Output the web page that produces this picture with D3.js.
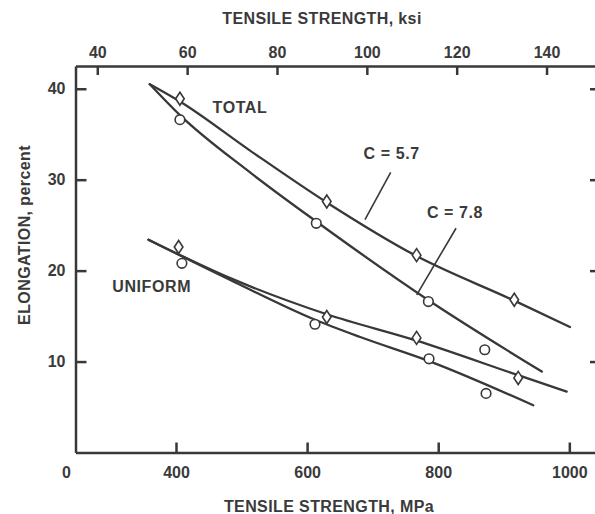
<!DOCTYPE html>
<html>
<head>
<meta charset="utf-8">
<script src="https://cdn.jsdelivr.net/npm/d3@7"></script>
<style>
  body { margin: 0; background: #fff; }
  text { font-family: "Liberation Sans", Arial, sans-serif; font-weight: bold; fill: #3a3a3a; }
</style>
</head>
<body>
<svg id="chart" width="595" height="514"></svg>
<script>
// Axis ticks
const mpaTicks = [400, 600, 800, 1000];
const ksiTicks = [40, 60, 80, 100, 120, 140];
const elongTicks = [10, 20, 30, 40];

// Measured specimens: tensile strength (MPa) and elongation (%)
const totalDiamondMPa   = [406, 630, 767, 916];
const totalDiamondElong = [38.9, 27.6, 21.7, 16.8];
const totalCircleMPa    = [406, 614, 785, 871];
const totalCircleElong  = [36.6, 25.2, 16.6, 11.3];
const uniformDiamondMPa   = [404, 630, 767, 922];
const uniformDiamondElong = [22.6, 14.9, 12.6, 8.2];
const uniformCircleMPa    = [409, 612, 786, 873];
const uniformCircleElong  = [20.8, 14.1, 10.3, 6.5];

// Fitted trend curves
const total57MPa     = [360, 406, 513, 630, 767, 916, 1001];
const total57Elong   = [40.5, 38.6, 33.2, 27.5, 21.6, 16.7, 13.8];
const total78MPa     = [360, 406, 513, 614, 784, 958];
const total78Elong   = [40.5, 37.1, 30.8, 25.4, 16.8, 8.9];
const uniform57MPa   = [358, 482, 630, 767, 922, 996];
const uniform57Elong = [23.4, 19.2, 15.2, 12.3, 8.5, 6.7];
const uniform78MPa   = [358, 482, 612, 681, 788, 945];
const uniform78Elong = [23.4, 19.0, 14.6, 12.7, 10.0, 5.2];

const svg = d3.select("#chart");
const ink = "#383838";
const fontSize = "16px";

const x = d3.scaleLinear().domain([246.7, 1046.8]).range([75.5, 600]);
const xKsi = d3.scaleLinear().domain([35.15, 151.9]).range([75.5, 600]);
const y = d3.scaleLinear().domain([0, 42.5]).range([452.5, 66]);

function styleAxis(g) {
  g.select(".domain").attr("stroke", ink).attr("stroke-width", 2.5);
  g.selectAll(".tick line").attr("stroke", ink).attr("stroke-width", 2.5);
  g.selectAll(".tick text")
    .attr("fill", ink)
    .style("font-size", fontSize)
    .style("font-family", "'Liberation Sans', Arial, sans-serif")
    .style("font-weight", "bold");
}

// Bottom axis (MPa)
svg.append("g")
  .attr("transform", `translate(0,${y(0)})`)
  .call(d3.axisBottom(x).tickValues(mpaTicks).tickFormat(d3.format("d"))
    .tickSizeInner(-10).tickSizeOuter(0).tickPadding(14))
  .call(styleAxis);

// Top axis (ksi)
svg.append("g")
  .attr("transform", `translate(0,${y.range()[1]})`)
  .call(d3.axisTop(xKsi).tickValues(ksiTicks).tickFormat(d3.format("d"))
    .tickSizeInner(-9).tickSizeOuter(0).tickPadding(8))
  .call(styleAxis);

// Left axis
svg.append("g")
  .attr("transform", `translate(${x.range()[0]},0)`)
  .call(d3.axisLeft(y).tickValues(elongTicks).tickSizeInner(-11).tickSizeOuter(0).tickPadding(10))
  .call(styleAxis);

// Right axis (only inward ticks fall inside the page)
svg.append("g")
  .attr("transform", `translate(${x.range()[1]},0)`)
  .call(d3.axisRight(y).tickValues(elongTicks).tickSizeInner(-10).tickSizeOuter(0).tickFormat(""))
  .call(styleAxis);

// Origin label
svg.append("text")
  .attr("x", 66.5).attr("y", y(0) + 20)
  .attr("text-anchor", "middle").attr("dominant-baseline", "central")
  .style("font-size", fontSize).text("0");

// Axis titles
svg.append("text")
  .attr("x", 329).attr("y", 506)
  .attr("text-anchor", "middle").attr("dominant-baseline", "central")
  .style("font-size", fontSize).style("letter-spacing", "0.4px")
  .text("TENSILE STRENGTH, MPa");

svg.append("text")
  .attr("x", 322).attr("y", 18)
  .attr("text-anchor", "middle").attr("dominant-baseline", "central")
  .style("font-size", fontSize).style("letter-spacing", "0.4px")
  .text("TENSILE STRENGTH, ksi");

svg.append("text")
  .attr("transform", "translate(24,235) rotate(-90)")
  .attr("text-anchor", "middle").attr("dominant-baseline", "central")
  .style("font-size", fontSize).style("letter-spacing", "0.4px")
  .text("ELONGATION, percent");

// Trend curves
const line = d3.line().x(d => x(d[0])).y(d => y(d[1])).curve(d3.curveMonotoneX);
const curves = [
  d3.zip(total57MPa, total57Elong),
  d3.zip(total78MPa, total78Elong),
  d3.zip(uniform57MPa, uniform57Elong),
  d3.zip(uniform78MPa, uniform78Elong)
];
svg.append("g").selectAll("path").data(curves).join("path")
  .attr("d", line)
  .attr("fill", "none")
  .attr("stroke", ink)
  .attr("stroke-width", 2.3)
  .attr("stroke-linecap", "round");

// Diamond markers
const diamonds = d3.zip(totalDiamondMPa, totalDiamondElong)
  .concat(d3.zip(uniformDiamondMPa, uniformDiamondElong));
svg.append("g").selectAll("path").data(diamonds).join("path")
  .attr("transform", d => `translate(${x(d[0])},${y(d[1])})`)
  .attr("d", "M0,-6.5L4.3,0L0,6.5L-4.3,0Z")
  .attr("fill", "#fff")
  .attr("stroke", ink)
  .attr("stroke-width", 1.6);

// Circle markers
const circles = d3.zip(totalCircleMPa, totalCircleElong)
  .concat(d3.zip(uniformCircleMPa, uniformCircleElong));
svg.append("g").selectAll("circle").data(circles).join("circle")
  .attr("cx", d => x(d[0]))
  .attr("cy", d => y(d[1]))
  .attr("r", 4.8)
  .attr("fill", "#fff")
  .attr("stroke", ink)
  .attr("stroke-width", 1.6);

// Leader lines for the curve constants
const leaders = [
  [[727.5, 30.8], [688.3, 25.6]],
  [[827.2, 24.66], [767.2, 17.33]]
];
svg.append("g").selectAll("line").data(leaders).join("line")
  .attr("x1", d => x(d[0][0])).attr("y1", d => y(d[0][1]))
  .attr("x2", d => x(d[1][0])).attr("y2", d => y(d[1][1]))
  .attr("stroke", ink).attr("stroke-width", 1.6);

// Annotations
const notes = [
  { t: "TOTAL", m: 497.6, e: 37.9 },
  { t: "UNIFORM", m: 362.9, e: 18.24 },
  { t: "C = 5.7", m: 729, e: 32.9 },
  { t: "C = 7.8", m: 825.6, e: 26.4 }
];
svg.append("g").selectAll("text").data(notes).join("text")
  .attr("x", d => x(d.m)).attr("y", d => y(d.e))
  .attr("text-anchor", "middle").attr("dominant-baseline", "central")
  .style("font-size", fontSize).style("letter-spacing", "0.6px")
  .text(d => d.t);
</script>
</body>
</html>
